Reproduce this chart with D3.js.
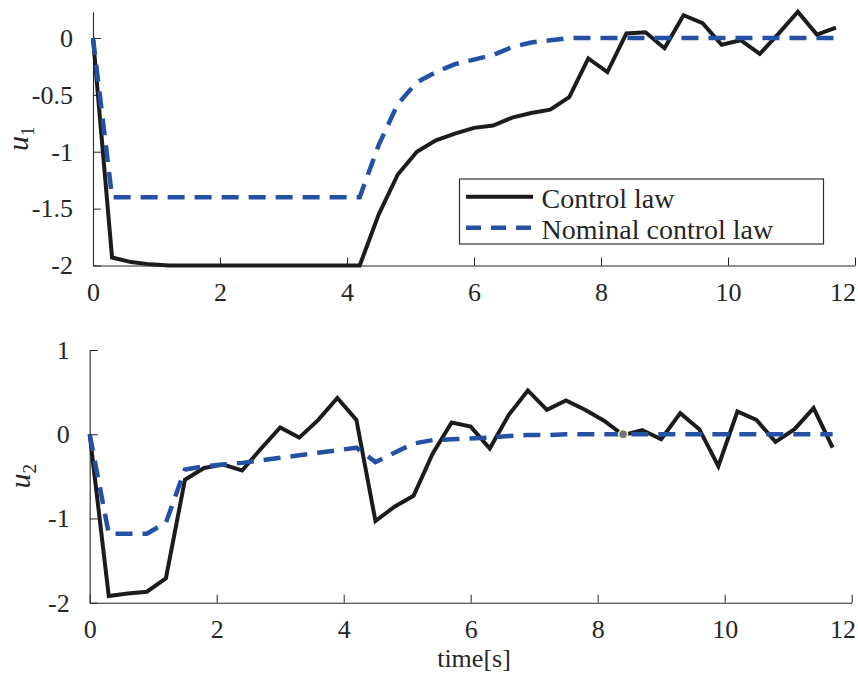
<!DOCTYPE html>
<html>
<head>
<meta charset="utf-8">
<script src="https://cdn.jsdelivr.net/npm/d3@7"></script>
</head>
<body style="margin:0;background:#fff">
<svg id="chart" width="858" height="682"></svg>
<script>
// sample instants [s]
var time = [0, 0.3, 0.6, 0.9, 1.2, 1.5, 1.8, 2.1, 2.4, 2.7,
  3.0, 3.3, 3.6, 3.9, 4.2, 4.5, 4.8, 5.1, 5.4, 5.7,
  6.0, 6.3, 6.6, 6.9, 7.2, 7.5, 7.8, 8.1, 8.4, 8.7,
  9.0, 9.3, 9.6, 9.9, 10.2, 10.5, 10.8, 11.1, 11.4, 11.7];

var u1Control = [0, -1.93, -1.97, -1.99, -2, -2, -2, -2, -2, -2,
  -2, -2, -2, -2, -2, -1.55, -1.2, -1.0, -0.9, -0.84,
  -0.79, -0.77, -0.7, -0.66, -0.63, -0.52, -0.18, -0.3, 0.04, 0.05,
  -0.09, 0.2, 0.13, -0.06, -0.02, -0.14, 0.04, 0.23, 0.03, 0.09];

var u1Nominal = [0, -1.4, -1.4, -1.4, -1.4, -1.4, -1.4, -1.4, -1.4, -1.4,
  -1.4, -1.4, -1.4, -1.4, -1.4, -0.94, -0.58, -0.39, -0.3, -0.23,
  -0.19, -0.15, -0.08, -0.04, -0.02, 0, 0, 0, 0, 0,
  0, 0, 0, 0, 0, 0, 0, 0, 0, 0];

var u2Control = [0, -1.92, -1.89, -1.87, -1.71, -0.54, -0.4, -0.36, -0.43, -0.17,
  0.08, -0.04, 0.17, 0.43, 0.17, -1.03, -0.86, -0.73, -0.23, 0.14,
  0.09, -0.17, 0.23, 0.52, 0.29, 0.4, 0.29, 0.16, -0.01, 0.05,
  -0.06, 0.25, 0.06, -0.38, 0.27, 0.17, -0.09, 0.06, 0.31, -0.16];

var u2Nominal = [0, -1.18, -1.18, -1.18, -1.05, -0.42, -0.38, -0.36, -0.34, -0.31,
  -0.28, -0.25, -0.22, -0.19, -0.16, -0.33, -0.22, -0.11, -0.07, -0.06,
  -0.05, -0.04, -0.02, -0.01, -0.01, 0, 0, 0, 0, 0,
  0, 0, 0, 0, 0, 0, 0, 0, 0, 0];

var xTicks = [0, 2, 4, 6, 8, 10, 12];
var u1Ticks = [-2, -1.5, -1, -0.5, 0];
var u2Ticks = [-2, -1, 0, 1];

var legendLabels = ["Control law", "Nominal control law"];

// data tip marker on the second plot
var tipTime = [8.4];
var tipValue = [0];

var black = "#1c1c1c";
var blue = "#2352a5";
var axisColor = "#262626";
var serif = '"Liberation Serif", "Times New Roman", serif';

var svg = d3.select("#chart");

function drawPanel(opt) {
  var x = d3.scaleLinear().domain([0, 12]).range([opt.left, opt.right]);
  var y = d3.scaleLinear().domain(opt.yDomain).range([opt.bottom, opt.top]);
  var g = svg.append("g");

  var xAxis = g.append("g")
    .attr("transform", "translate(0," + opt.bottom + ")")
    .call(d3.axisBottom(x).tickValues(xTicks).tickSizeInner(-8).tickSizeOuter(0).tickPadding(17)
      .tickFormat(function(d) { return String(d); }));

  var yAxis = g.append("g")
    .attr("transform", "translate(" + opt.left + ",0)")
    .call(d3.axisLeft(y).tickValues(opt.yTicks).tickSizeInner(-8).tickSizeOuter(0).tickPadding(opt.yPad)
      .tickFormat(function(d) { return String(d); }));

  [xAxis, yAxis].forEach(function(a) {
    a.attr("font-family", null);
    a.select(".domain").attr("stroke", axisColor).attr("stroke-width", 1.1);
    a.selectAll(".tick line").attr("stroke", axisColor).attr("stroke-width", 1);
    a.selectAll(".tick text").attr("font-size", 26).attr("fill", axisColor)
      .style("font-family", serif);
  });

  // keep the last x label inside the picture
  xAxis.selectAll(".tick text").each(function() {
    var b = this.getBBox();
    var m = this.parentNode.transform.baseVal.consolidate().matrix;
    var over = m.e + b.x + b.width - 856;
    if (over > 0) d3.select(this).attr("x", -over);
  });

  var line = d3.line()
    .x(function(d, i) { return x(time[i]); })
    .y(function(d) { return y(d); });

  g.append("path")
    .datum(opt.control)
    .attr("fill", "none")
    .attr("stroke", black)
    .attr("stroke-width", 4)
    .attr("d", line);

  g.append("path")
    .datum(opt.nominal)
    .attr("fill", "none")
    .attr("stroke", blue)
    .attr("stroke-width", 4.5)
    .attr("stroke-dasharray", "17,10")
    .attr("d", line);

  // y label, e.g. u_1
  var lab = g.append("text")
    .attr("transform", "translate(" + opt.labelX + "," + ((opt.top + opt.bottom) / 2) + ") rotate(-90)")
    .attr("text-anchor", "middle")
    .attr("font-size", 30)
    .attr("fill", axisColor)
    .style("font-family", serif);
  lab.append("tspan").attr("font-style", "italic").text("u");
  lab.append("tspan").attr("font-size", 19).attr("dy", 6).text(opt.sub);

  return { g: g, x: x, y: y };
}

var top1 = drawPanel({
  left: 93, right: 855, top: 11.8, bottom: 265.5,
  yDomain: [-2, 0.23], yTicks: u1Ticks, yPad: 20,
  control: u1Control, nominal: u1Nominal, sub: "1", labelX: 28
});

var bot = drawPanel({
  left: 89.7, right: 851.7, top: 350, bottom: 602.7,
  yDomain: [-2, 1], yTicks: u2Ticks, yPad: 20,
  control: u2Control, nominal: u2Nominal, sub: "2", labelX: 30
});

bot.g.selectAll(".tip")
  .data(tipTime)
  .enter().append("circle")
  .attr("class", "tip")
  .attr("cx", function(d) { return bot.x(d); })
  .attr("cy", function(d, i) { return bot.y(tipValue[i]); })
  .attr("r", 4.5)
  .attr("fill", "#707478")
  .attr("stroke", "#f3f0c8")
  .attr("stroke-width", 1.5);

svg.append("text")
  .attr("x", 474)
  .attr("y", 667)
  .attr("text-anchor", "middle")
  .attr("font-size", 26)
  .attr("fill", axisColor)
  .style("font-family", serif)
  .text("time[s]");

// legend
var leg = top1.g.append("g");
leg.append("rect")
  .attr("x", 459.5).attr("y", 179)
  .attr("width", 364).attr("height", 65)
  .attr("fill", "#fff")
  .attr("stroke", "#333")
  .attr("stroke-width", 1.2);

var rows = leg.selectAll(".row")
  .data(legendLabels)
  .enter().append("g")
  .attr("transform", function(d, i) { return "translate(0," + (196.7 + i * 31) + ")"; });

rows.append("line")
  .attr("x1", 466).attr("x2", 533)
  .attr("stroke", function(d, i) { return i === 0 ? black : blue; })
  .attr("stroke-width", function(d, i) { return i === 0 ? 4 : 4.5; })
  .attr("stroke-dasharray", function(d, i) { return i === 0 ? null : "15,10"; });

rows.append("text")
  .attr("x", 541.5)
  .attr("y", 11)
  .attr("font-size", 28)
  .attr("fill", axisColor)
  .style("font-family", serif)
  .text(function(d) { return d; });
</script>
</body>
</html>
